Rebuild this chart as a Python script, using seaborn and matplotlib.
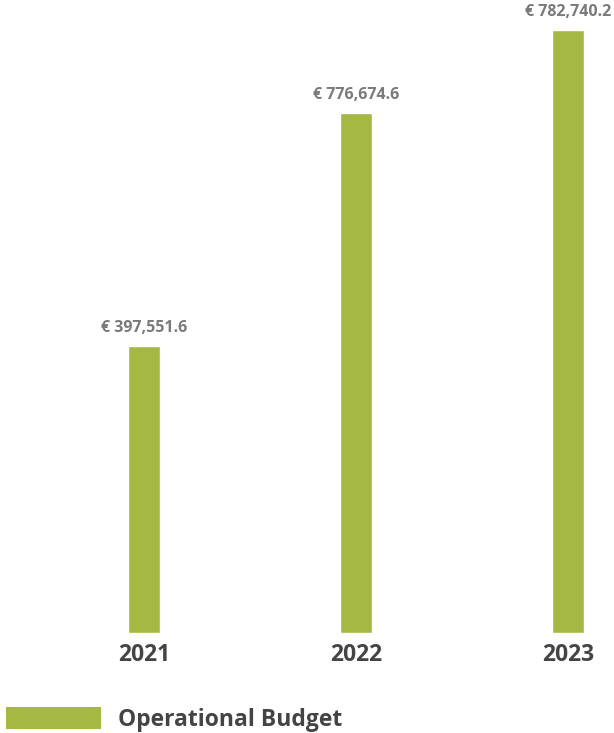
import matplotlib
matplotlib.use("Agg")
import matplotlib.pyplot as plt
from matplotlib.patches import Patch
import seaborn as sns
import pandas as pd

years = ["2021", "2022", "2023"]
# values printed above the bars
budget = [397551.6, 776674.6, 782740.2]
# bar heights as drawn in the reference (not proportional to the labels)
bar_heights = [372550, 675000, 782740.2]
series_name = "Operational Budget"

bar_color = "#a6b844"
label_color = "#7a7a7a"
tick_color = "#444444"

sns.set_theme(style="white")
plt.rcParams["font.family"] = ["Open Sans", "DejaVu Sans"]

df = pd.DataFrame({"year": years, "height": bar_heights, "budget": budget})

fig = plt.figure(figsize=(6.14, 7.33), dpi=100)
ax = fig.add_axes([0, 100 / 733, 1, 633 / 733])

sns.barplot(data=df, x="year", y="height", color=bar_color, width=0.151,
            saturation=1, ax=ax)

ax.set_xlim(-0.679, 2.217)
ax.set_ylim(0, 821683)
ax.set_xlabel("")
ax.set_ylabel("")
ax.set_yticks([])
sns.despine(ax=ax, left=True, bottom=True)
ax.tick_params(axis="x", length=0, pad=7, labelsize=16.5, labelcolor=tick_color)
for t in ax.get_xticklabels():
    t.set_fontweight("bold")

for i, row in df.iterrows():
    ax.annotate(f"€ {row['budget']:,.1f}", xy=(i, row["height"]), xytext=(0, 10),
                textcoords="offset points", ha="center", va="baseline",
                fontsize=11.5, fontweight="bold", color=label_color,
                annotation_clip=False)

handle = Patch(facecolor=bar_color, edgecolor="none", label=series_name)
fig.legend(handles=[handle], loc="lower left", bbox_to_anchor=(6 / 614, 1 / 733),
           frameon=False, borderpad=0, borderaxespad=0, handlelength=4.15,
           handleheight=1.135, handletextpad=0.74,
           prop={"size": 16.5, "weight": "bold"}, labelcolor=tick_color)

fig.savefig("out.png", dpi=100)
